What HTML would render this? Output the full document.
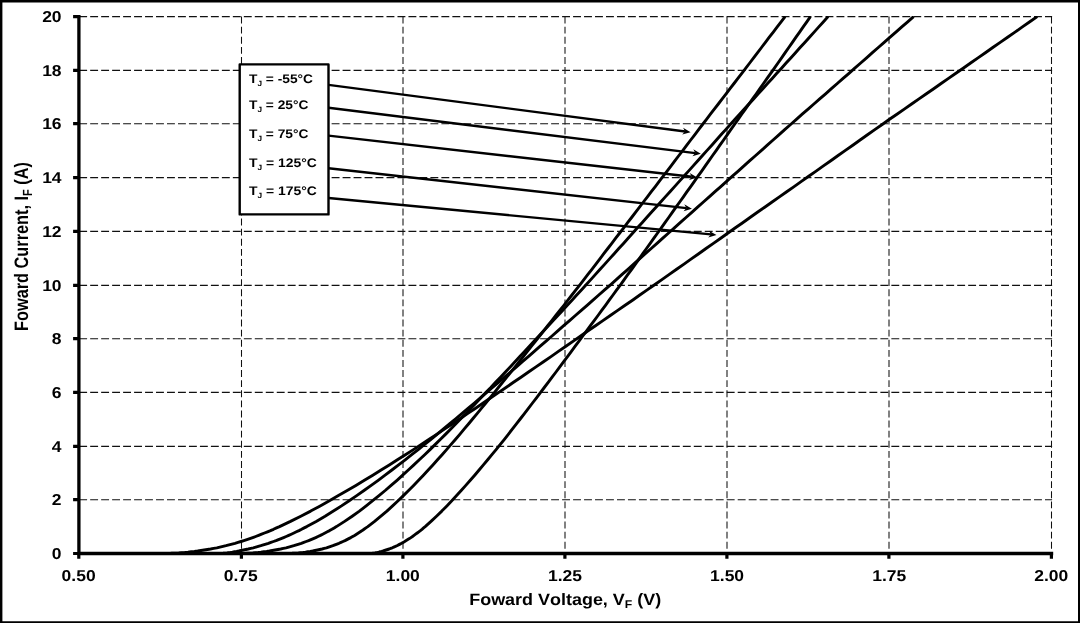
<!DOCTYPE html><html><head><meta charset="utf-8"><title>chart</title><style>html,body{margin:0;padding:0;background:#fff;overflow:hidden}</style></head><body><svg width="1080" height="623" viewBox="0 0 1080 623" style="display:block;text-rendering:geometricPrecision;will-change:transform;font-family:'Liberation Sans',sans-serif;font-weight:bold;font-kerning:none">
<rect x="0" y="0" width="1080" height="623" fill="#fff"/>
<path d="M79.2 499.65H1052.1M79.2 446.35H1052.1M79.2 392.35H1052.1M79.2 338.65H1052.1M79.2 285.35H1052.1M79.2 231.35H1052.1M79.2 177.60H1052.1M79.2 123.65H1052.1M79.2 70.35H1052.1M79.2 16.60H1052.1" stroke="#111" stroke-width="1.05" stroke-dasharray="7.9 3.075" fill="none"/>
<path d="M241.50 16.6V553.5M403.00 16.6V553.5M565.00 16.6V553.5M727.00 16.6V553.5M889.00 16.6V553.5M1051.50 16.6V553.5" stroke="#111" stroke-width="1.05" stroke-dasharray="6.9 3.2" fill="none"/>
<clipPath id="cp"><rect x="0" y="15.95" width="1080" height="600"/></clipPath><g fill="none" stroke="#000" stroke-width="2.9" stroke-linejoin="round" clip-path="url(#cp)">
<path d="M168.9 553.5 L169.2 553.5 L170.2 553.4 L171.7 553.3 L173.7 553.2 L176.1 553.1 L178.8 552.9 L181.7 552.6 L184.8 552.4 L188.0 552.1 L191.2 551.7 L194.4 551.4 L197.7 551.0 L201.0 550.5 L204.2 550.0 L207.4 549.5 L210.6 549.0 L213.7 548.4 L216.8 547.8 L219.9 547.1 L223.0 546.4 L226.0 545.7 L229.0 544.9 L232.0 544.1 L235.0 543.3 L238.0 542.4 L241.0 541.5 L243.9 540.6 L246.9 539.6 L249.8 538.6 L252.7 537.6 L255.7 536.5 L258.6 535.4 L261.6 534.2 L264.5 533.0 L267.5 531.8 L270.5 530.6 L273.5 529.3 L276.5 527.9 L279.5 526.6 L290.5 521.4 L300.8 516.2 L310.7 511.1 L320.2 505.9 L329.4 500.7 L338.4 495.6 L347.2 490.5 L355.9 485.4 L364.4 480.3 L372.8 475.2 L381.1 470.0 L389.3 464.9 L397.4 459.8 L405.4 454.7 L413.4 449.6 L421.3 444.4 L429.2 439.3 L437.0 434.1 L444.8 428.9 L452.6 423.7 L460.3 418.5 L467.9 413.4 L475.6 408.2 L483.2 403.0 L490.8 397.8 L498.4 392.6 L506.0 387.5 L513.5 382.3 L521.0 377.2 L528.5 372.0 L536.0 366.9 L543.5 361.7 L551.0 356.6 L558.4 351.4 L565.9 346.2 L573.3 341.1 L580.7 336.0 L588.1 330.8 L595.5 325.7 L602.9 320.6 L610.3 315.5 L617.7 310.4 L625.1 305.3 L632.5 300.2 L639.8 295.0 L647.2 289.9 L654.6 284.8 L661.9 279.6 L669.3 274.4 L676.6 269.3 L684.0 264.1 L691.3 258.9 L698.7 253.7 L706.0 248.5 L713.4 243.4 L720.7 238.2 L728.0 233.0 L735.4 227.8 L742.7 222.7 L750.0 217.5 L757.4 212.3 L764.7 207.2 L772.1 202.0 L779.4 196.9 L786.7 191.7 L794.1 186.6 L801.4 181.4 L808.7 176.2 L816.1 171.1 L823.4 165.9 L830.8 160.7 L838.1 155.5 L845.4 150.4 L852.8 145.2 L860.1 140.0 L867.5 134.8 L874.8 129.6 L882.2 124.5 L889.5 119.3 L896.9 114.2 L904.3 109.1 L911.6 104.0 L919.0 98.9 L926.4 93.8 L933.7 88.7 L941.1 83.5 L948.5 78.4 L955.9 73.3 L963.2 68.2 L970.6 63.0 L978.0 57.9 L985.4 52.7 L992.8 47.5 L1000.2 42.4 L1007.6 37.2 L1015.0 32.1 L1022.4 26.9 L1029.8 21.8 L1037.2 16.6"/>
<path d="M222.3 553.5 L222.4 553.5 L222.8 553.4 L223.5 553.3 L224.5 553.2 L225.7 553.1 L227.1 552.9 L228.7 552.6 L230.5 552.4 L232.4 552.1 L234.5 551.7 L236.6 551.4 L238.8 551.0 L241.1 550.5 L243.5 550.0 L245.9 549.5 L248.3 549.0 L250.8 548.4 L253.3 547.8 L255.8 547.1 L258.3 546.4 L260.8 545.7 L263.3 544.9 L265.9 544.1 L268.4 543.3 L270.9 542.4 L273.5 541.5 L276.0 540.6 L278.5 539.6 L281.1 538.6 L283.6 537.6 L286.2 536.5 L288.7 535.4 L291.3 534.2 L293.9 533.0 L296.4 531.8 L299.0 530.6 L301.6 529.3 L304.2 527.9 L306.8 526.6 L316.2 521.4 L325.1 516.2 L333.4 511.1 L341.5 505.9 L349.2 500.7 L356.7 495.6 L364.0 490.5 L371.2 485.4 L378.2 480.3 L385.1 475.2 L391.9 470.0 L398.6 464.9 L405.2 459.8 L411.7 454.7 L418.2 449.6 L424.6 444.4 L431.0 439.3 L437.3 434.1 L443.5 428.9 L449.8 423.7 L456.0 418.5 L462.1 413.4 L468.3 408.2 L474.4 403.0 L480.4 397.8 L486.5 392.6 L492.5 387.5 L498.5 382.3 L504.5 377.2 L510.5 372.0 L516.5 366.9 L522.4 361.7 L528.3 356.6 L534.3 351.4 L540.2 346.2 L546.1 341.1 L552.0 336.0 L557.8 330.8 L563.7 325.7 L569.6 320.6 L575.4 315.5 L581.3 310.4 L587.1 305.3 L593.0 300.2 L598.8 295.0 L604.6 289.9 L610.5 284.8 L616.3 279.6 L622.1 274.4 L627.9 269.3 L633.7 264.1 L639.5 258.9 L645.3 253.7 L651.2 248.5 L657.0 243.4 L662.8 238.2 L668.6 233.0 L674.4 227.8 L680.2 222.7 L686.0 217.5 L691.8 212.3 L697.6 207.2 L703.4 202.0 L709.2 196.9 L715.0 191.7 L720.8 186.6 L726.6 181.4 L732.4 176.2 L738.2 171.1 L744.0 165.9 L749.8 160.7 L755.7 155.5 L761.5 150.4 L767.3 145.2 L773.1 140.0 L778.9 134.8 L784.7 129.6 L790.6 124.5 L796.4 119.3 L802.2 114.2 L808.1 109.1 L813.9 104.0 L819.7 98.9 L825.6 93.8 L831.4 88.7 L837.3 83.5 L843.1 78.4 L849.0 73.3 L854.8 68.2 L860.7 63.0 L866.6 57.9 L872.4 52.7 L878.3 47.5 L884.2 42.4 L890.1 37.2 L895.9 32.1 L901.8 26.9 L907.7 21.8 L913.6 16.6"/>
<path d="M244.4 553.5 L244.7 553.5 L245.5 553.4 L246.8 553.3 L248.5 553.2 L250.6 553.1 L252.9 552.9 L255.5 552.6 L258.2 552.4 L260.9 552.1 L263.8 551.7 L266.6 551.4 L269.5 551.0 L272.3 550.5 L275.1 550.0 L277.9 549.5 L280.7 549.0 L283.4 548.4 L286.0 547.8 L288.7 547.1 L291.3 546.4 L293.8 545.7 L296.4 544.9 L298.9 544.1 L301.3 543.3 L303.8 542.4 L306.2 541.5 L308.6 540.6 L311.0 539.6 L313.4 538.6 L315.7 537.6 L318.0 536.5 L320.4 535.4 L322.7 534.2 L325.0 533.0 L327.3 531.8 L329.6 530.6 L331.9 529.3 L334.2 527.9 L336.4 526.6 L344.6 521.4 L352.2 516.2 L359.4 511.1 L366.2 505.9 L372.7 500.7 L379.0 495.6 L385.2 490.5 L391.1 485.4 L397.0 480.3 L402.7 475.2 L408.3 470.0 L413.9 464.9 L419.3 459.8 L424.7 454.7 L430.0 449.6 L435.3 444.4 L440.5 439.3 L445.7 434.1 L450.8 428.9 L455.9 423.7 L461.0 418.5 L466.0 413.4 L471.0 408.2 L476.0 403.0 L480.9 397.8 L485.8 392.6 L490.8 387.5 L495.6 382.3 L500.5 377.2 L505.4 372.0 L510.2 366.9 L515.0 361.7 L519.8 356.6 L524.6 351.4 L529.4 346.2 L534.2 341.1 L538.9 336.0 L543.7 330.8 L548.4 325.7 L553.2 320.6 L557.9 315.5 L562.6 310.4 L567.3 305.3 L572.0 300.2 L576.7 295.0 L581.4 289.9 L586.1 284.8 L590.8 279.6 L595.5 274.4 L600.1 269.3 L604.8 264.1 L609.5 258.9 L614.2 253.7 L618.8 248.5 L623.5 243.4 L628.1 238.2 L632.8 233.0 L637.4 227.8 L642.1 222.7 L646.7 217.5 L651.4 212.3 L656.0 207.2 L660.7 202.0 L665.3 196.9 L670.0 191.7 L674.6 186.6 L679.3 181.4 L683.9 176.2 L688.5 171.1 L693.2 165.9 L697.8 160.7 L702.5 155.5 L707.1 150.4 L711.8 145.2 L716.4 140.0 L721.0 134.8 L725.7 129.6 L730.3 124.5 L735.0 119.3 L739.6 114.2 L744.3 109.1 L748.9 104.0 L753.6 98.9 L758.2 93.8 L762.9 88.7 L767.5 83.5 L772.2 78.4 L776.8 73.3 L781.5 68.2 L786.1 63.0 L790.8 57.9 L795.5 52.7 L800.1 47.5 L804.8 42.4 L809.5 37.2 L814.1 32.1 L818.8 26.9 L823.5 21.8 L828.1 16.6"/>
<path d="M290.5 553.5 L290.8 553.5 L291.6 553.4 L292.8 553.3 L294.4 553.2 L296.3 553.1 L298.4 552.9 L300.7 552.6 L303.0 552.4 L305.5 552.1 L307.9 551.7 L310.3 551.4 L312.7 551.0 L315.1 550.5 L317.5 550.0 L319.8 549.5 L322.1 549.0 L324.3 548.4 L326.5 547.8 L328.6 547.1 L330.8 546.4 L332.9 545.7 L334.9 544.9 L337.0 544.1 L339.0 543.3 L341.0 542.4 L343.0 541.5 L345.0 540.6 L346.9 539.6 L348.8 538.6 L350.8 537.6 L352.7 536.5 L354.6 535.4 L356.5 534.2 L358.4 533.0 L360.3 531.8 L362.2 530.6 L364.0 529.3 L365.9 527.9 L367.8 526.6 L374.6 521.4 L380.9 516.2 L386.9 511.1 L392.6 505.9 L398.1 500.7 L403.4 495.6 L408.6 490.5 L413.6 485.4 L418.6 480.3 L423.4 475.2 L428.2 470.0 L432.9 464.9 L437.5 459.8 L442.1 454.7 L446.6 449.6 L451.1 444.4 L455.6 439.3 L460.0 434.1 L464.3 428.9 L468.7 423.7 L473.0 418.5 L477.3 413.4 L481.6 408.2 L485.8 403.0 L490.0 397.8 L494.3 392.6 L498.4 387.5 L502.6 382.3 L506.8 377.2 L510.9 372.0 L515.1 366.9 L519.2 361.7 L523.3 356.6 L527.4 351.4 L531.5 346.2 L535.6 341.1 L539.6 336.0 L543.7 330.8 L547.7 325.7 L551.8 320.6 L555.8 315.5 L559.8 310.4 L563.9 305.3 L567.9 300.2 L571.9 295.0 L575.9 289.9 L579.9 284.8 L583.9 279.6 L587.9 274.4 L591.9 269.3 L595.9 264.1 L599.9 258.9 L603.8 253.7 L607.8 248.5 L611.8 243.4 L615.7 238.2 L619.7 233.0 L623.7 227.8 L627.6 222.7 L631.6 217.5 L635.5 212.3 L639.5 207.2 L643.4 202.0 L647.4 196.9 L651.3 191.7 L655.3 186.6 L659.2 181.4 L663.2 176.2 L667.1 171.1 L671.1 165.9 L675.0 160.7 L678.9 155.5 L682.9 150.4 L686.8 145.2 L690.7 140.0 L694.7 134.8 L698.6 129.6 L702.5 124.5 L706.5 119.3 L710.4 114.2 L714.3 109.1 L718.3 104.0 L722.2 98.9 L726.1 93.8 L730.0 88.7 L734.0 83.5 L737.9 78.4 L741.8 73.3 L745.8 68.2 L749.7 63.0 L753.6 57.9 L757.6 52.7 L761.5 47.5 L765.4 42.4 L769.3 37.2 L773.3 32.1 L777.2 26.9 L781.1 21.8 L785.1 16.6"/>
<path d="M371.6 553.5 L371.7 553.5 L372.0 553.4 L372.5 553.3 L373.2 553.2 L374.1 553.1 L375.1 552.9 L376.3 552.6 L377.5 552.4 L378.8 552.1 L380.2 551.7 L381.6 551.4 L383.1 551.0 L384.6 550.5 L386.1 550.0 L387.7 549.5 L389.2 549.0 L390.7 548.4 L392.3 547.8 L393.8 547.1 L395.4 546.4 L396.9 545.7 L398.5 544.9 L400.0 544.1 L401.6 543.3 L403.1 542.4 L404.7 541.5 L406.2 540.6 L407.8 539.6 L409.4 538.6 L410.9 537.6 L412.5 536.5 L414.0 535.4 L415.6 534.2 L417.2 533.0 L418.8 531.8 L420.4 530.6 L422.0 529.3 L423.6 527.9 L425.2 526.6 L431.0 521.4 L436.5 516.2 L441.8 511.1 L446.9 505.9 L451.8 500.7 L456.6 495.6 L461.2 490.5 L465.8 485.4 L470.3 480.3 L474.7 475.2 L479.1 470.0 L483.4 464.9 L487.7 459.8 L491.9 454.7 L496.1 449.6 L500.3 444.4 L504.4 439.3 L508.5 434.1 L512.5 428.9 L516.6 423.7 L520.6 418.5 L524.6 413.4 L528.6 408.2 L532.5 403.0 L536.5 397.8 L540.4 392.6 L544.3 387.5 L548.2 382.3 L552.1 377.2 L556.0 372.0 L559.8 366.9 L563.7 361.7 L567.5 356.6 L571.4 351.4 L575.2 346.2 L579.0 341.1 L582.8 336.0 L586.6 330.8 L590.4 325.7 L594.2 320.6 L598.0 315.5 L601.7 310.4 L605.5 305.3 L609.2 300.2 L613.0 295.0 L616.7 289.9 L620.5 284.8 L624.2 279.6 L627.9 274.4 L631.7 269.3 L635.4 264.1 L639.1 258.9 L642.8 253.7 L646.5 248.5 L650.2 243.4 L653.9 238.2 L657.6 233.0 L661.3 227.8 L665.0 222.7 L668.7 217.5 L672.3 212.3 L676.0 207.2 L679.7 202.0 L683.4 196.9 L687.0 191.7 L690.7 186.6 L694.4 181.4 L698.0 176.2 L701.7 171.1 L705.3 165.9 L709.0 160.7 L712.6 155.5 L716.3 150.4 L719.9 145.2 L723.6 140.0 L727.2 134.8 L730.8 129.6 L734.5 124.5 L738.1 119.3 L741.7 114.2 L745.4 109.1 L749.0 104.0 L752.6 98.9 L756.3 93.8 L759.9 88.7 L763.5 83.5 L767.1 78.4 L770.7 73.3 L774.4 68.2 L778.0 63.0 L781.6 57.9 L785.2 52.7 L788.8 47.5 L792.4 42.4 L796.0 37.2 L799.6 32.1 L803.2 26.9 L806.8 21.8 L810.4 16.6"/>
</g>
<path d="M78.9 15.100000000000001V555.1M77.30000000000001 553.5H1053.1999999999998" stroke="#000" stroke-width="3.3" fill="none"/>
<path d="M73.10000000000001 553.50H78.9M73.10000000000001 499.65H78.9M73.10000000000001 446.35H78.9M73.10000000000001 392.35H78.9M73.10000000000001 338.65H78.9M73.10000000000001 285.35H78.9M73.10000000000001 231.35H78.9M73.10000000000001 177.60H78.9M73.10000000000001 123.65H78.9M73.10000000000001 70.35H78.9M73.10000000000001 16.60H78.9M78.80 553.5V558.8M241.40 553.5V558.8M402.90 553.5V558.8M564.90 553.5V558.8M726.90 553.5V558.8M888.90 553.5V558.8M1051.40 553.5V558.8" stroke="#000" stroke-width="3.2" fill="none"/>
<g fill="#000">
<text transform="translate(61.60 558.75) scale(1.11 1)" text-anchor="end"><tspan font-size="15.75">0</tspan></text>
<text transform="translate(61.60 504.90) scale(1.11 1)" text-anchor="end"><tspan font-size="15.75">2</tspan></text>
<text transform="translate(61.60 451.60) scale(1.11 1)" text-anchor="end"><tspan font-size="15.75">4</tspan></text>
<text transform="translate(61.60 397.60) scale(1.11 1)" text-anchor="end"><tspan font-size="15.75">6</tspan></text>
<text transform="translate(61.60 343.90) scale(1.11 1)" text-anchor="end"><tspan font-size="15.75">8</tspan></text>
<text transform="translate(61.60 290.60) scale(1.11 1)" text-anchor="end"><tspan font-size="15.75">10</tspan></text>
<text transform="translate(61.60 236.60) scale(1.11 1)" text-anchor="end"><tspan font-size="15.75">12</tspan></text>
<text transform="translate(61.60 182.85) scale(1.11 1)" text-anchor="end"><tspan font-size="15.75">14</tspan></text>
<text transform="translate(61.60 128.90) scale(1.11 1)" text-anchor="end"><tspan font-size="15.75">16</tspan></text>
<text transform="translate(61.60 75.60) scale(1.11 1)" text-anchor="end"><tspan font-size="15.75">18</tspan></text>
<text transform="translate(61.60 21.85) scale(1.11 1)" text-anchor="end"><tspan font-size="15.75">20</tspan></text>
<text transform="translate(78.60 580.65) scale(1.11 1)" text-anchor="middle"><tspan font-size="15.75">0.50</tspan></text>
<text transform="translate(240.72 580.65) scale(1.11 1)" text-anchor="middle"><tspan font-size="15.75">0.75</tspan></text>
<text transform="translate(402.83 580.65) scale(1.11 1)" text-anchor="middle"><tspan font-size="15.75">1.00</tspan></text>
<text transform="translate(564.95 580.65) scale(1.11 1)" text-anchor="middle"><tspan font-size="15.75">1.25</tspan></text>
<text transform="translate(727.07 580.65) scale(1.11 1)" text-anchor="middle"><tspan font-size="15.75">1.50</tspan></text>
<text transform="translate(889.18 580.65) scale(1.11 1)" text-anchor="middle"><tspan font-size="15.75">1.75</tspan></text>
<text transform="translate(1051.30 580.65) scale(1.11 1)" text-anchor="middle"><tspan font-size="15.75">2.00</tspan></text>
<text transform="translate(565.20 605.20) scale(1.088 1)" text-anchor="middle"><tspan font-size="16.5">Foward&#160;Voltage,&#160;V</tspan><tspan font-size="11.22" dy="3.135">F</tspan><tspan font-size="16.5" dy="-3.135">&#160;(V)</tspan></text>
<text transform="translate(27.80 246.50) rotate(-90) scale(0.988 1.18)" text-anchor="middle"><tspan font-size="16.5">Foward&#160;Current,&#160;I</tspan><tspan font-size="11.22" dy="3.135">F</tspan><tspan font-size="16.5" dy="-3.135">&#160;(A)</tspan></text>
</g>
<path d="M328.5 84.9L685.1 131.5" stroke="#000" stroke-width="2.4" fill="none"/>
<path d="M690.6 132.2L682.2 134.6L685.1 131.5L683.1 127.7Z" fill="#000"/>
<path d="M328.5 107.8L695.3 153.1" stroke="#000" stroke-width="2.4" fill="none"/>
<path d="M700.8 153.8L692.4 156.3L695.3 153.1L693.3 149.3Z" fill="#000"/>
<path d="M328.5 135.6L691.8 176.8" stroke="#000" stroke-width="2.4" fill="none"/>
<path d="M697.3 177.4L689.0 180.0L691.8 176.8L689.7 173.0Z" fill="#000"/>
<path d="M328.5 168.3L686.4 208.1" stroke="#000" stroke-width="2.4" fill="none"/>
<path d="M691.9 208.7L683.6 211.3L686.4 208.1L684.3 204.3Z" fill="#000"/>
<path d="M328.5 198.0L711.0 234.4" stroke="#000" stroke-width="2.4" fill="none"/>
<path d="M716.5 234.9L708.2 237.6L711.0 234.4L708.9 230.7Z" fill="#000"/>
<rect x="239.7" y="64.4" width="88.8" height="150.0" stroke-linejoin="round" fill="#fff" stroke="#000" stroke-width="2.4"/>
<g fill="#000">
<text transform="translate(249.00 82.60) scale(1.1 1)" text-anchor="start"><tspan font-size="12.5">T</tspan><tspan font-size="7.5" dy="3">J</tspan><tspan font-size="12.5" dy="-3">&#160;=&#160;-55°C</tspan></text>
<text transform="translate(249.00 109.10) scale(1.1 1)" text-anchor="start"><tspan font-size="12.5">T</tspan><tspan font-size="7.5" dy="3">J</tspan><tspan font-size="12.5" dy="-3">&#160;=&#160;25°C</tspan></text>
<text transform="translate(249.00 137.70) scale(1.1 1)" text-anchor="start"><tspan font-size="12.5">T</tspan><tspan font-size="7.5" dy="3">J</tspan><tspan font-size="12.5" dy="-3">&#160;=&#160;75°C</tspan></text>
<text transform="translate(249.00 167.00) scale(1.113 1)" text-anchor="start"><tspan font-size="12.5">T</tspan><tspan font-size="7.5" dy="3">J</tspan><tspan font-size="12.5" dy="-3">&#160;=&#160;125°C</tspan></text>
<text transform="translate(249.00 195.40) scale(1.113 1)" text-anchor="start"><tspan font-size="12.5">T</tspan><tspan font-size="7.5" dy="3">J</tspan><tspan font-size="12.5" dy="-3">&#160;=&#160;175°C</tspan></text>
</g>
<path d="M0 0H1080V623H0Z M2.4 2.55H1078V621.3H2.4Z" fill="#000" fill-rule="evenodd"/>
</svg></body></html>
